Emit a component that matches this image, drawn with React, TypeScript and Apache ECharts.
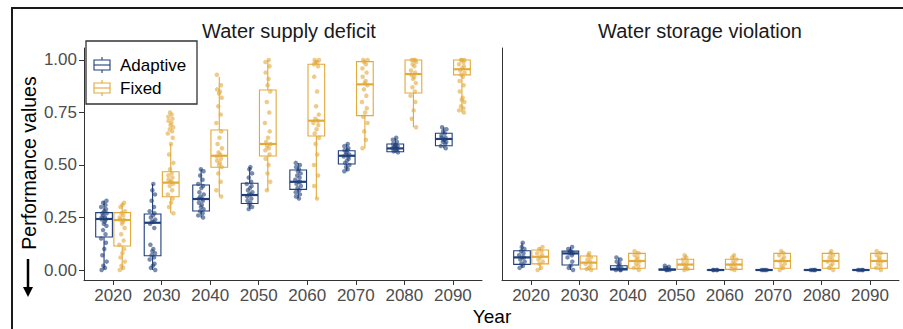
import React, { useEffect, useRef } from "react";
import * as echarts from "echarts";

const YEARS = ["2020", "2030", "2040", "2050", "2060", "2070", "2080", "2090"];
const GROUPS = ["Adaptive", "Fixed"];
const PANELS = ["Water supply deficit", "Water storage violation"];
const Y_TICKS = [0, 0.25, 0.5, 0.75, 1];

// box stats: [min, q1, median, q3, max]
const SUPPLY_ADAPTIVE_BOX = [
  [0.0, 0.157, 0.243, 0.273, 0.33],
  [0.0, 0.068, 0.225, 0.267, 0.41],
  [0.25, 0.281, 0.338, 0.405, 0.48],
  [0.29, 0.317, 0.357, 0.413, 0.49],
  [0.34, 0.384, 0.42, 0.476, 0.51],
  [0.47, 0.505, 0.544, 0.568, 0.6],
  [0.56, 0.563, 0.579, 0.6, 0.63],
  [0.58, 0.592, 0.624, 0.651, 0.68],
];
const SUPPLY_FIXED_BOX = [
  [0.0, 0.114, 0.238, 0.273, 0.32],
  [0.27, 0.349, 0.416, 0.468, 0.6],
  [0.35, 0.489, 0.544, 0.667, 0.92],
  [0.38, 0.543, 0.6, 0.857, 1.0],
  [0.34, 0.638, 0.711, 0.98, 1.0],
  [0.58, 0.735, 0.884, 0.992, 1.0],
  [0.68, 0.843, 0.933, 1.0, 1.0],
  [0.75, 0.929, 0.956, 1.0, 1.0],
];
const STORAGE_ADAPTIVE_BOX = [
  [0.01, 0.027, 0.06, 0.092, 0.13],
  [0.0, 0.024, 0.079, 0.09, 0.11],
  [0.0, 0.0, 0.005, 0.02, 0.06],
  [0.0, 0.0, 0.002, 0.004, 0.02],
  [0.0, 0.0, 0.0, 0.001, 0.002],
  [0.0, 0.0, 0.0, 0.001, 0.002],
  [0.0, 0.0, 0.0, 0.001, 0.002],
  [0.0, 0.0, 0.0, 0.001, 0.002],
];
const STORAGE_FIXED_BOX = [
  [0.0, 0.029, 0.063, 0.095, 0.11],
  [0.0, 0.005, 0.035, 0.067, 0.08],
  [0.0, 0.008, 0.043, 0.079, 0.09],
  [0.0, 0.003, 0.026, 0.051, 0.07],
  [0.0, 0.003, 0.026, 0.051, 0.07],
  [0.0, 0.008, 0.043, 0.079, 0.09],
  [0.0, 0.008, 0.043, 0.079, 0.09],
  [0.0, 0.008, 0.043, 0.079, 0.09],
];

// individual runs (jittered points)
const SUPPLY_ADAPTIVE_PTS = [
  [0.0, 0.01, 0.02, 0.04, 0.07, 0.1, 0.13, 0.15, 0.17, 0.19, 0.21, 0.22, 0.23, 0.24, 0.24, 0.25, 0.25, 0.26, 0.27, 0.27, 0.28, 0.29, 0.3, 0.31, 0.32, 0.33],
  [0.0, 0.01, 0.02, 0.03, 0.05, 0.06, 0.07, 0.08, 0.09, 0.1, 0.12, 0.2, 0.22, 0.23, 0.23, 0.24, 0.25, 0.26, 0.27, 0.28, 0.3, 0.33, 0.36, 0.38, 0.41],
  [0.25, 0.26, 0.27, 0.28, 0.29, 0.3, 0.31, 0.32, 0.33, 0.34, 0.34, 0.35, 0.36, 0.37, 0.39, 0.4, 0.41, 0.43, 0.45, 0.47, 0.48],
  [0.29, 0.3, 0.31, 0.32, 0.33, 0.34, 0.35, 0.36, 0.36, 0.37, 0.38, 0.39, 0.4, 0.41, 0.42, 0.44, 0.46, 0.48, 0.49],
  [0.34, 0.35, 0.36, 0.37, 0.38, 0.39, 0.4, 0.41, 0.42, 0.42, 0.43, 0.44, 0.45, 0.46, 0.47, 0.48, 0.49, 0.5, 0.51],
  [0.47, 0.48, 0.49, 0.5, 0.51, 0.52, 0.53, 0.54, 0.54, 0.55, 0.55, 0.56, 0.57, 0.57, 0.58, 0.59, 0.6],
  [0.56, 0.565, 0.57, 0.575, 0.58, 0.58, 0.585, 0.59, 0.59, 0.595, 0.6, 0.61, 0.62, 0.63],
  [0.58, 0.59, 0.6, 0.61, 0.61, 0.62, 0.62, 0.63, 0.63, 0.64, 0.65, 0.66, 0.67, 0.68],
];
const SUPPLY_FIXED_PTS = [
  [0.0, 0.01, 0.02, 0.04, 0.06, 0.08, 0.1, 0.12, 0.14, 0.17, 0.2, 0.22, 0.23, 0.24, 0.24, 0.25, 0.26, 0.27, 0.28, 0.3, 0.31, 0.32],
  [0.27, 0.3, 0.32, 0.34, 0.36, 0.38, 0.4, 0.41, 0.42, 0.42, 0.43, 0.44, 0.45, 0.46, 0.48, 0.51, 0.55, 0.6, 0.63, 0.65, 0.66, 0.67, 0.68, 0.69, 0.7, 0.71, 0.72, 0.73, 0.74, 0.75],
  [0.35, 0.38, 0.42, 0.46, 0.49, 0.5, 0.51, 0.52, 0.53, 0.54, 0.55, 0.56, 0.58, 0.6, 0.63, 0.66, 0.7, 0.74, 0.78, 0.82, 0.84, 0.85, 0.86, 0.88, 0.93],
  [0.38, 0.42, 0.46, 0.5, 0.53, 0.55, 0.57, 0.58, 0.59, 0.6, 0.61, 0.63, 0.66, 0.7, 0.75, 0.8, 0.85, 0.88, 0.91, 0.94, 0.97, 0.99, 1.0],
  [0.34, 0.4, 0.45, 0.5, 0.55, 0.6, 0.63, 0.65, 0.67, 0.69, 0.7, 0.71, 0.72, 0.74, 0.78, 0.85, 0.92, 0.97, 0.98, 0.99, 0.99, 1.0, 1.0],
  [0.58, 0.62, 0.66, 0.7, 0.73, 0.75, 0.77, 0.8, 0.83, 0.86, 0.88, 0.89, 0.9, 0.92, 0.94, 0.96, 0.98, 0.99, 1.0, 1.0],
  [0.68, 0.72, 0.76, 0.8, 0.83, 0.85, 0.87, 0.89, 0.91, 0.92, 0.93, 0.94, 0.95, 0.97, 0.98, 0.99, 1.0, 1.0, 1.0],
  [0.75, 0.76, 0.77, 0.78, 0.8, 0.81, 0.82, 0.85, 0.88, 0.9, 0.92, 0.93, 0.94, 0.95, 0.96, 0.97, 0.98, 0.99, 1.0, 1.0, 1.0],
];
const STORAGE_ADAPTIVE_PTS = [
  [0.01, 0.02, 0.03, 0.04, 0.05, 0.06, 0.06, 0.07, 0.08, 0.09, 0.1, 0.11, 0.13],
  [0.0, 0.01, 0.02, 0.04, 0.06, 0.07, 0.08, 0.08, 0.09, 0.09, 0.1, 0.11],
  [0.0, 0.0, 0.0, 0.01, 0.01, 0.02, 0.03, 0.04, 0.05, 0.06],
  [0.0, 0.0, 0.0, 0.005, 0.01, 0.015, 0.02],
  [0.0, 0.0, 0.0, 0.0],
  [0.0, 0.0, 0.0, 0.0],
  [0.0, 0.0, 0.0, 0.0],
  [0.0, 0.0, 0.0, 0.0],
];
const STORAGE_FIXED_PTS = [
  [0.0, 0.01, 0.03, 0.04, 0.05, 0.06, 0.07, 0.08, 0.09, 0.1, 0.11],
  [0.0, 0.005, 0.01, 0.02, 0.03, 0.04, 0.05, 0.06, 0.07, 0.08],
  [0.0, 0.01, 0.02, 0.03, 0.04, 0.05, 0.06, 0.07, 0.08, 0.09],
  [0.0, 0.005, 0.01, 0.02, 0.03, 0.04, 0.05, 0.06, 0.07],
  [0.0, 0.005, 0.01, 0.02, 0.03, 0.04, 0.05, 0.06, 0.07],
  [0.0, 0.01, 0.02, 0.03, 0.04, 0.05, 0.06, 0.07, 0.08, 0.09],
  [0.0, 0.01, 0.02, 0.03, 0.04, 0.05, 0.06, 0.07, 0.08, 0.09],
  [0.0, 0.01, 0.02, 0.03, 0.04, 0.05, 0.06, 0.07, 0.08, 0.09],
];

// presentation constants
const BLUE = "#1F3F7A";
const GOLD = "#E2A93B";
const FONT = "'Liberation Sans', Arial, sans-serif";
const DODGE = 0.187;
const HALF_W = 0.172;
const JITTER = [-0.05, 0.02, -0.015, 0.055, -0.035, 0.005, 0.04, -0.06, 0.03, -0.02, 0.05, -0.005, 0.015, -0.045, 0.035];

function pointData(values: number[][], offset: number) {
  const out: number[][] = [];
  values.forEach((arr, i) =>
    arr.forEach((v, j) => out.push([i + offset + JITTER[(j + i * 3) % JITTER.length], v]))
  );
  return out;
}
function boxData(stats: number[][], offset: number) {
  return stats.map((b, i) => [i + offset, ...b]);
}

function renderBox(color: string) {
  return (_params: any, api: any) => {
    const x = api.value(0);
    const lo = api.coord([x - HALF_W, api.value(2)]);
    const hi = api.coord([x + HALF_W, api.value(4)]);
    const pMin = api.coord([x, api.value(1)]);
    const pMax = api.coord([x, api.value(5)]);
    const pMed = api.coord([x, api.value(3)]);
    const st = { stroke: color, lineWidth: 1.1, fill: "none" };
    return {
      type: "group",
      children: [
        { type: "line", shape: { x1: pMin[0], y1: pMin[1], x2: pMin[0], y2: lo[1] }, style: st },
        { type: "line", shape: { x1: pMax[0], y1: hi[1], x2: pMax[0], y2: pMax[1] }, style: st },
        { type: "rect", shape: { x: lo[0], y: hi[1], width: hi[0] - lo[0], height: lo[1] - hi[1] }, style: st },
        { type: "line", shape: { x1: lo[0], y1: pMed[1], x2: hi[0], y2: pMed[1] }, style: { stroke: color, lineWidth: 2.2 } },
      ],
    };
  };
}

const X_VALUES = YEARS.map((_, i) => i);

function xAxis(gridIndex: number) {
  return {
    type: "value",
    gridIndex,
    min: -0.6,
    max: 7.6,
    axisLine: { show: true, onZero: false, lineStyle: { color: "#333", width: 1 } },
    axisTick: { show: true, length: 5, customValues: X_VALUES, lineStyle: { color: "#333" } },
    axisLabel: {
      customValues: X_VALUES,
      formatter: (v: number) => YEARS[Math.round(v)] ?? "",
      fontSize: 17,
      color: "#4D4D4D",
      margin: 7,
      fontFamily: FONT,
    },
    splitLine: { show: false },
  };
}
function yAxis(gridIndex: number, labels: boolean) {
  return {
    type: "value",
    gridIndex,
    min: -0.0476,
    max: 1.0571,
    axisLine: { show: true, onZero: false, lineStyle: { color: "#333", width: 1 } },
    axisTick: { show: labels, length: 5, customValues: Y_TICKS, lineStyle: { color: "#333" } },
    axisLabel: {
      show: labels,
      customValues: Y_TICKS,
      formatter: (v: number) => v.toFixed(2),
      fontSize: 17,
      color: "#4D4D4D",
      margin: 7,
      fontFamily: FONT,
    },
    splitLine: { show: false },
  };
}

function scatter(name: string, idx: number, data: number[][], color: string) {
  return {
    name,
    type: "scatter",
    xAxisIndex: idx,
    yAxisIndex: idx,
    data,
    symbolSize: 4.5,
    itemStyle: { color, opacity: 0.6 },
    z: 2,
  };
}
function boxes(name: string, idx: number, data: number[][], color: string) {
  return {
    name,
    type: "custom",
    xAxisIndex: idx,
    yAxisIndex: idx,
    data,
    encode: { x: 0, y: [1, 2, 3, 4, 5] },
    renderItem: renderBox(color),
    clip: false,
    z: 3,
  };
}

function legendIcon(cx: number, cy: number, color: string) {
  const st = { stroke: color, lineWidth: 1.1, fill: "none" };
  return [
    { type: "line", shape: { x1: cx, y1: cy - 8, x2: cx, y2: cy - 5 }, style: st },
    { type: "line", shape: { x1: cx, y1: cy + 5, x2: cx, y2: cy + 8 }, style: st },
    { type: "rect", shape: { x: cx - 8, y: cy - 5, width: 16, height: 10 }, style: st },
    { type: "line", shape: { x1: cx - 8, y1: cy, x2: cx + 8, y2: cy }, style: st },
  ];
}

export default function App() {
  const ref = useRef<HTMLDivElement>(null);
  useEffect(() => {
    if (!ref.current) return;
    const chart = echarts.init(ref.current, null, { renderer: "svg" });
    const colors = [BLUE, GOLD];
    chart.setOption({
      animation: false,
      backgroundColor: "#fff",
      grid: [
        { left: 84, top: 48, width: 398, height: 232 },
        { left: 502, top: 48, width: 397, height: 232 },
      ],
      xAxis: [xAxis(0), xAxis(1)],
      yAxis: [yAxis(0, true), yAxis(1, false)],
      series: [
        scatter(GROUPS[0], 0, pointData(SUPPLY_ADAPTIVE_PTS, -DODGE), BLUE),
        scatter(GROUPS[1], 0, pointData(SUPPLY_FIXED_PTS, DODGE), GOLD),
        boxes(GROUPS[0], 0, boxData(SUPPLY_ADAPTIVE_BOX, -DODGE), BLUE),
        boxes(GROUPS[1], 0, boxData(SUPPLY_FIXED_BOX, DODGE), GOLD),
        scatter(GROUPS[0], 1, pointData(STORAGE_ADAPTIVE_PTS, -DODGE), BLUE),
        scatter(GROUPS[1], 1, pointData(STORAGE_FIXED_PTS, DODGE), GOLD),
        boxes(GROUPS[0], 1, boxData(STORAGE_ADAPTIVE_BOX, -DODGE), BLUE),
        boxes(GROUPS[1], 1, boxData(STORAGE_FIXED_BOX, DODGE), GOLD),
      ],
      graphic: [
        {
          type: "rect",
          shape: { x: 12, y: 8, width: 900, height: 340 },
          style: { fill: "none", stroke: "#1a1a1a", lineWidth: 2 },
          z: 100,
        },
        {
          type: "text",
          x: 289,
          y: 31,
          style: { text: PANELS[0], font: `20px ${FONT}`, fill: "#1a1a1a", textAlign: "center", textVerticalAlign: "middle" },
        },
        {
          type: "text",
          x: 700,
          y: 31,
          style: { text: PANELS[1], font: `20px ${FONT}`, fill: "#1a1a1a", textAlign: "center", textVerticalAlign: "middle" },
        },
        {
          type: "text",
          x: 492,
          y: 316,
          style: { text: "Year", font: `19px ${FONT}`, fill: "#000", textAlign: "center", textVerticalAlign: "middle" },
        },
        {
          type: "text",
          x: 29,
          y: 163,
          rotation: Math.PI / 2,
          style: { text: "Performance values", font: `19.5px ${FONT}`, fill: "#000", textAlign: "center", textVerticalAlign: "middle" },
        },
        {
          type: "line",
          shape: { x1: 28, y1: 259, x2: 28, y2: 289 },
          style: { stroke: "#000", lineWidth: 2.5 },
        },
        {
          type: "polygon",
          shape: { points: [[23, 287], [33, 287], [28, 297]] },
          style: { fill: "#000" },
        },
        {
          type: "group",
          z: 50,
          children: [
            {
              type: "rect",
              shape: { x: 86, y: 41, width: 111, height: 63 },
              style: { fill: "#fff", stroke: "#333", lineWidth: 1.3 },
            },
            ...legendIcon(102, 65, colors[0]),
            ...legendIcon(102, 88, colors[1]),
            {
              type: "text",
              x: 120,
              y: 65,
              style: { text: GROUPS[0], font: `17px ${FONT}`, fill: "#000", textVerticalAlign: "middle" },
            },
            {
              type: "text",
              x: 120,
              y: 88,
              style: { text: GROUPS[1], font: `17px ${FONT}`, fill: "#000", textVerticalAlign: "middle" },
            },
          ],
        },
      ],
    });
    return () => chart.dispose();
  }, []);
  return <div ref={ref} style={{ position: "fixed", left: 0, top: 0, width: 903, height: 329 }} />;
}
